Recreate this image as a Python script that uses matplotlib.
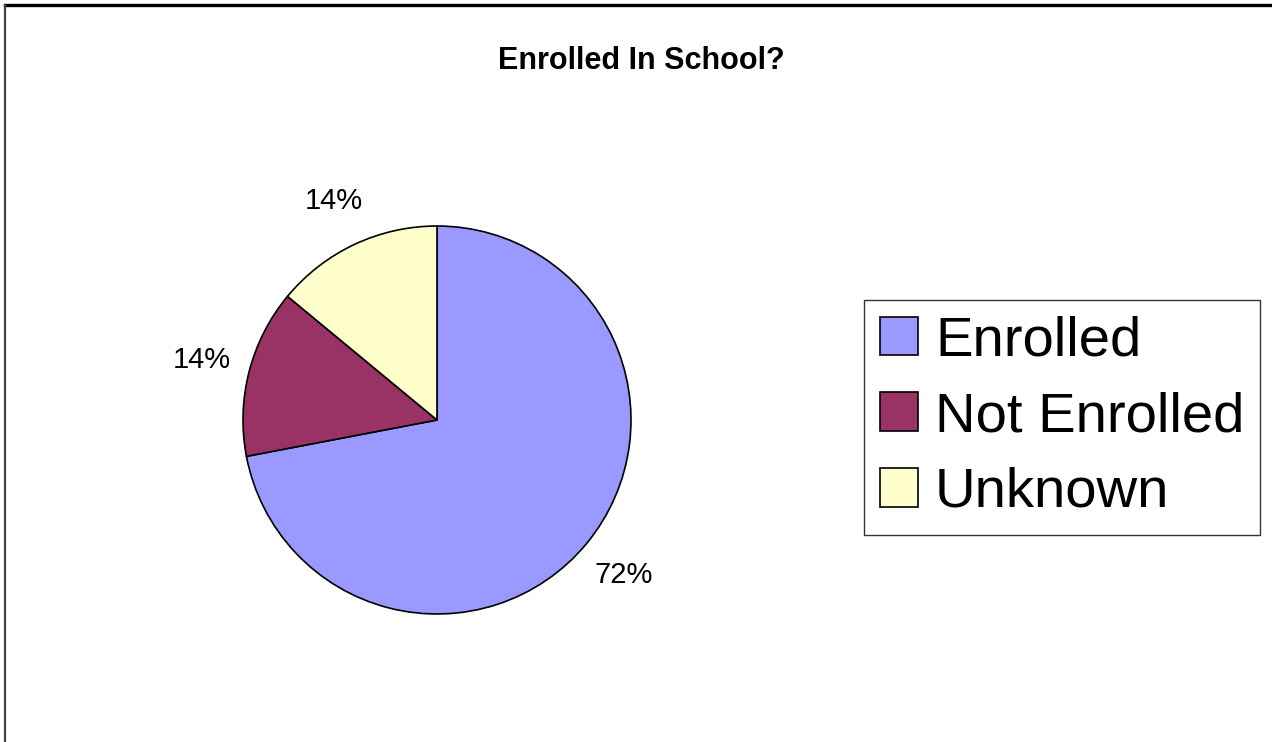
import matplotlib.pyplot as plt
from matplotlib.lines import Line2D

plt.rcParams['font.family'] = ['Liberation Sans', 'DejaVu Sans']

labels = ['Enrolled', 'Not Enrolled', 'Unknown']
shares = [72, 14, 14]
colors = ['#9999FF', '#993366', '#FFFFCC']

W, H = 1272, 742
fig = plt.figure(figsize=(W / 100, H / 100), dpi=100)

# frame lines along the top and left edges
fig.add_artist(Line2D([5 / W, 1], [1 - 5 / H, 1 - 5 / H], transform=fig.transFigure,
                      color='black', lw=2.4))
fig.add_artist(Line2D([5 / W, 5 / W], [0, 1 - 5 / H], transform=fig.transFigure,
                      color='#444444', lw=1.6))

fig.text(641 / W, 1 - 61 / H, 'Enrolled In School?', ha='center', va='center',
         fontsize=22, fontweight='bold')

# pie occupies a square centred at (437, 420) px with radius 194 px
cx, cy, r = 437, 420, 194
ax = fig.add_axes([(cx - r) / W, (H - cy - r) / H, 2 * r / W, 2 * r / H])
wedges, texts, autotexts = ax.pie(
    shares, colors=colors, startangle=90, counterclock=False,
    autopct='%.0f%%', pctdistance=1.25,
    wedgeprops=dict(edgecolor='black', linewidth=1.2))
for t in autotexts:
    t.set_fontsize(21)
ax.set_xlim(-1, 1)
ax.set_ylim(-1, 1)
ax.axis('off')

leg = fig.legend(wedges, labels, loc='upper left',
                 bbox_to_anchor=(864 / W, 1 - 300 / H), bbox_transform=fig.transFigure,
                 fontsize=40.5, frameon=True, fancybox=False, borderaxespad=0,
                 handlelength=0.68, handleheight=0.68, handletextpad=0.3,
                 labelspacing=0.42, borderpad=0.28)
leg.get_frame().set_edgecolor('black')
leg.get_frame().set_linewidth(1.0)

fig.savefig('out.png', dpi=100)
